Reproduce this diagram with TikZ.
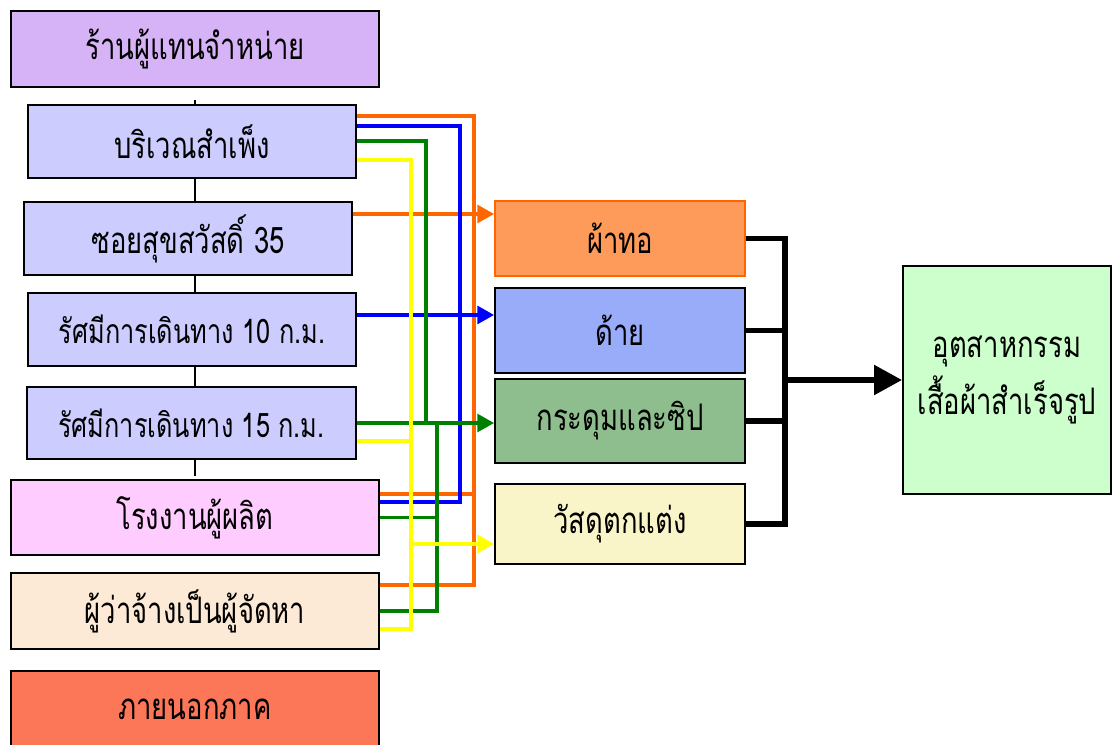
\documentclass[tikz,border=0pt]{standalone}
\usepackage{fontspec}
\newfontfamily\thaifont[Script=Thai,FakeStretch=0.75]{Loma}
\usetikzlibrary{positioning,calc,arrows.meta}

\definecolor{dealerfill}{RGB}{214,178,246}
\definecolor{areafill}{RGB}{204,204,255}
\definecolor{factoryfill}{RGB}{255,204,255}
\definecolor{clientfill}{RGB}{253,234,214}
\definecolor{outsidefill}{RGB}{252,118,88}
\definecolor{clothfill}{RGB}{255,155,90}
\definecolor{threadfill}{RGB}{152,172,250}
\definecolor{buttonfill}{RGB}{142,190,142}
\definecolor{decofill}{RGB}{250,245,200}
\definecolor{industryfill}{RGB}{204,255,204}
\definecolor{lineorange}{RGB}{255,102,0}
\definecolor{lineblue}{RGB}{0,0,255}
\definecolor{linegreen}{RGB}{0,128,0}
\definecolor{lineyellow}{RGB}{255,255,0}

\tikzset{
  srcbox/.style={draw=black,line width=1.3pt,inner sep=0pt,align=center,
    font=\thaifont\fontsize{26}{30}\selectfont},
  matbox/.style={srcbox,minimum width=6.25cm},
  feedline/.style={line width=2.3pt},
  feedarrow/.style={feedline,-{Triangle[length=0.42cm,width=0.45cm]}},
  bracketline/.style={line width=4.2pt},
}

\begin{document}
\begin{tikzpicture}[x=0.025cm,y=-0.025cm]
\useasboundingbox[fill=white] (0,0) rectangle (1112,744);

% sources on the left
\node[srcbox,fill=dealerfill,minimum width=9.2cm,minimum height=1.9cm] (dealer) at (195,49) {ร้านผู้แทนจำหน่าย};
\node[srcbox,fill=areafill,minimum width=8.2cm,minimum height=1.83cm] (sampeng) at (192,141.5) {บริเวณสำเพ็ง};
\node[srcbox,fill=areafill,minimum width=8.2cm,minimum height=1.83cm] (soi) at (188,238.5) {ซอยสุขสวัสดิ์ 35};
\node[srcbox,fill=areafill,minimum width=8.2cm,minimum height=1.83cm,
  font=\thaifont\fontsize{24}{28}\selectfont] (ten) at (192,329.5) {รัศมีการเดินทาง 10 ก.ม.};
\node[srcbox,fill=areafill,minimum width=8.22cm,minimum height=1.8cm,
  font=\thaifont\fontsize{24}{28}\selectfont] (fifteen) at (191.5,423) {รัศมีการเดินทาง 15 ก.ม.};
\node[srcbox,fill=factoryfill,minimum width=9.2cm,minimum height=1.88cm] (factory) at (195,517.5) {โรงงานผู้ผลิต};
\node[srcbox,fill=clientfill,minimum width=9.2cm,minimum height=1.9cm] (client) at (195,611) {ผู้ว่าจ้างเป็นผู้จัดหา};
\node[srcbox,fill=outsidefill,minimum width=9.2cm,minimum height=1.9cm] (outside) at (195,709) {ภายนอกภาค};

% materials
\node[matbox,fill=clothfill,draw=lineorange,minimum height=1.88cm] (cloth) at (620,238.5) {ผ้าทอ};
\node[matbox,fill=threadfill,minimum height=2.12cm] (thread) at (620,330.5) {ด้าย};
\node[matbox,fill=buttonfill,minimum height=2.1cm] (button) at (620,421) {กระดุมและซิป};
\node[matbox,fill=decofill,minimum height=2cm] (deco) at (620,524) {วัสดุตกแต่ง};

\node[srcbox,fill=industryfill,minimum width=5.2cm,minimum height=5.7cm,
  font=\thaifont\fontsize{26}{41}\selectfont] (industry) at (1007,380) {อุตสาหกรรม\\เสื้อผ้าสำเร็จรูป};

% trunk between the sources
\coordinate (trunk) at (195,0);
\draw[line width=1pt] ($(trunk |- sampeng.north)+(0,-4)$) -- (trunk |- sampeng.north);
\foreach \a/\b in {sampeng/soi,soi/ten,ten/fifteen}
  \draw[line width=1pt] (trunk |- \a.south) -- (trunk |- \b.north);
\draw[line width=1pt] (trunk |- fifteen.south) -- ($(trunk |- factory.north)+(0,-3)$);

% vertical rails
\coordinate (orx) at (474,0);
\coordinate (blx) at (460,0);
\coordinate (grx) at (426,0);
\coordinate (grxb) at (437,0);
\coordinate (ylx) at (411,0);

% orange: cloth
\draw[feedline,lineorange] ($(sampeng.north east)+(0,12)$) -| ($(orx |- client.north)+(0,13)$) -- ($(client.north east)+(0,13)$);
\draw[feedline,lineorange] ($(factory.north east)+(0,15)$) -- ($(orx |- factory.north)+(0,15)$);
\draw[feedarrow,lineorange] ($(soi.north east)+(0,13)$) -- ($(cloth.west |- soi.north)+(0,13)$);

% blue: thread
\draw[feedline,lineblue] ($(sampeng.north east)+(0,22)$) -| ($(blx |- factory.north)+(0,23)$) -- ($(factory.north east)+(0,23)$);
\draw[feedarrow,lineblue] ($(ten.north east)+(0,23)$) -- ($(thread.west |- ten.north)+(0,23)$);

% green: buttons
\draw[feedline,linegreen] ($(sampeng.north east)+(0,37)$) -| (grx |- fifteen.east);
\draw[feedarrow,linegreen] (fifteen.east) -- (button.west |- fifteen.east);
\draw[feedline,linegreen] (client.east) -| (grxb |- fifteen.east);
\draw[feedline,linegreen] (factory.east) -- (grxb |- factory.east);

% yellow: decoration
\draw[feedline,lineyellow,line width=3.1pt] ($(sampeng.north east)+(0,56)$) -| ($(ylx |- client.north)+(0,57)$) -- ($(client.north east)+(0,57)$);
\draw[feedline,lineyellow,line width=3.1pt] ($(fifteen.north east)+(0,55)$) -- ($(ylx |- fifteen.north)+(0,55)$);
\draw[feedarrow,lineyellow,line width=3.1pt] ($(ylx |- deco.south)+(0,-21)$) -- ($(deco.south west)+(0,-21)$);

% bracket to the industry
\coordinate (brx) at (785,0);
\draw[bracketline] (cloth.east) -| (brx |- deco.east) -- (deco.east);
\draw[bracketline] (thread.east) -- (brx |- thread.east);
\draw[bracketline] (button.east) -- (brx |- button.east);
\draw[bracketline,-{Triangle[length=0.7cm,width=0.72cm]}] (brx |- industry.west) -- (industry.west);

\end{tikzpicture}
\end{document}
